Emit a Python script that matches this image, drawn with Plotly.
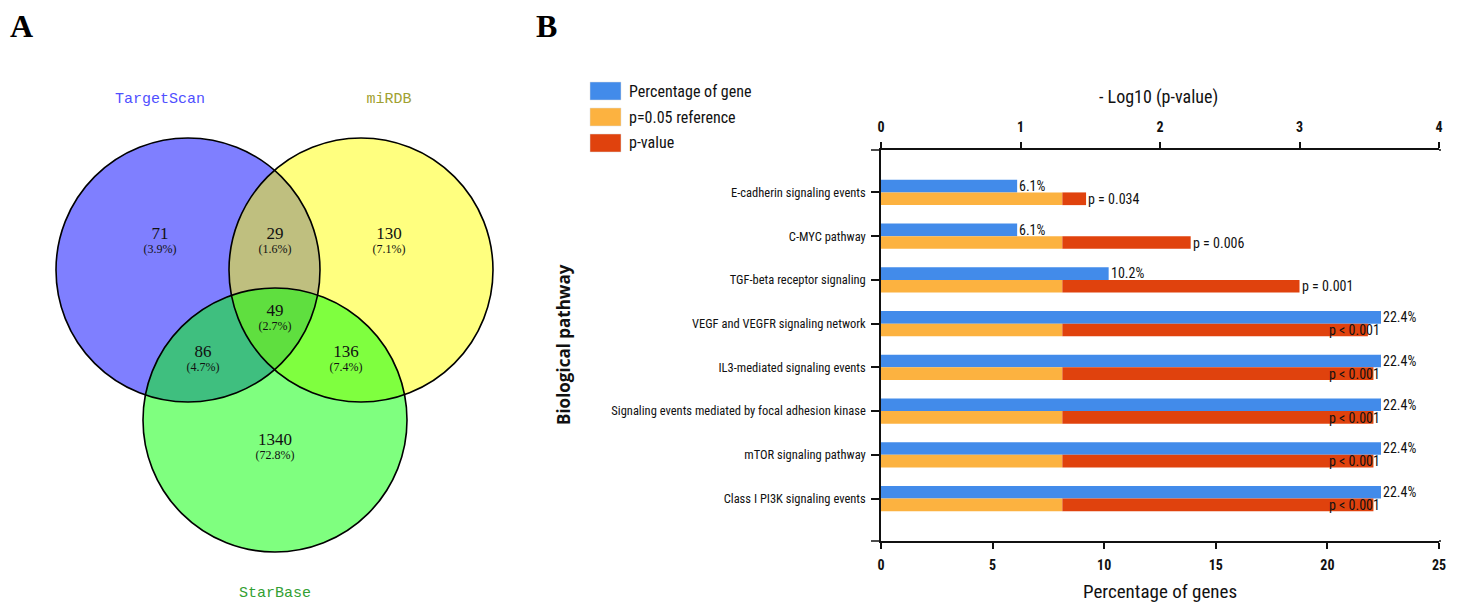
import plotly.graph_objects as go

W, H = 1460, 602

# ---------------- data ----------------
set_names = ["TargetScan", "miRDB", "StarBase"]
region_counts = [71, 29, 130, 86, 49, 136, 1340]
region_percents = ["3.9", "1.6", "7.1", "4.7", "2.7", "7.4", "72.8"]

pathways = [
    "E-cadherin signaling events",
    "C-MYC pathway",
    "TGF-beta receptor signaling",
    "VEGF and VEGFR signaling network",
    "IL3-mediated signaling events",
    "Signaling events mediated by focal adhesion kinase",
    "mTOR signaling pathway",
    "Class I PI3K signaling events",
]
gene_pct = [6.1, 6.1, 10.2, 22.4, 22.4, 22.4, 22.4, 22.4]
neg_log_p = [1.47, 2.22, 3.00, 3.49, 3.53, 3.53, 3.53, 3.53]
p_labels = ["p = 0.034", "p = 0.006", "p = 0.001",
            "p < 0.001", "p < 0.001", "p < 0.001", "p < 0.001", "p < 0.001"]
ref_value = 1.30  # -log10(0.05)
legend_names = ["Percentage of gene", "p=0.05 reference", "p-value"]

# ---------------- styles ----------------
BLUE = "#428BEA"
ORANGE = "#FCB240"
RED = "#E0420D"
NARROW = "Liberation Sans Narrow, Arial Narrow, Roboto Condensed, sans-serif"
SERIF = "Liberation Serif, DejaVu Serif, serif"
MONO = "Liberation Mono, DejaVu Sans Mono, monospace"


def px(x):
    return x / W


def py(y):
    return 1 - y / H


X0, X1 = 881, 1439   # bar panel plot-area edges (px)
Y0, Y1 = 150, 541

fig = go.Figure()

# ---------------- Panel B: bars ----------------
bar_w = 0.29
fig.add_trace(go.Bar(
    y=pathways, x=gene_pct, orientation="h", xaxis="x", yaxis="y",
    width=bar_w, offset=-bar_w, marker=dict(color=BLUE, line=dict(width=0)),
    name=legend_names[0], showlegend=False, hoverinfo="x+y"))
fig.add_trace(go.Bar(
    y=pathways, x=[ref_value] * len(pathways), orientation="h", xaxis="x2", yaxis="y",
    width=bar_w, offset=0, marker=dict(color=ORANGE, line=dict(width=0)),
    name=legend_names[1], showlegend=False, hoverinfo="x+y"))
fig.add_trace(go.Bar(
    y=pathways, x=[v - ref_value for v in neg_log_p], base=ref_value,
    orientation="h", xaxis="x2", yaxis="y",
    width=bar_w, offset=0, marker=dict(color=RED, line=dict(width=0)),
    name=legend_names[2], showlegend=False, hoverinfo="x+y"))

annotations = []
lbl_font = dict(family=NARROW, size=14, color="#111")
for name, pc, nl, pl in zip(pathways, gene_pct, neg_log_p, p_labels):
    annotations.append(dict(
        x=pc, y=name, xref="x", yref="y", text=f"{pc}%", showarrow=False,
        xanchor="left", yanchor="middle", yshift=6.5, xshift=0, font=lbl_font))
    if pl.startswith("p <"):
        annotations.append(dict(
            x=pc, y=name, xref="x", yref="y", text=pl, showarrow=False,
            xanchor="right", yanchor="middle", yshift=-6.5, xshift=1, font=lbl_font))
    else:
        annotations.append(dict(
            x=nl, y=name, xref="x2", yref="y", text=pl, showarrow=False,
            xanchor="left", yanchor="middle", yshift=-6.5, xshift=0, font=lbl_font))


def paper_text(x, y, text, font, **kw):
    d = dict(x=px(x), y=py(y), xref="paper", yref="paper", text=text,
             showarrow=False, xanchor="center", yanchor="middle", font=font)
    d.update(kw)
    return d


annotations += [
    paper_text(1158, 97, "- Log10 (p-value)", dict(family=NARROW, size=18, color="#111")),
    paper_text(1160, 591, "Percentage of genes", dict(family=NARROW, size=19, color="#111")),
    paper_text(563, 345, "<b>Biological pathway</b>",
               dict(family="Open Sans, DejaVu Sans, sans-serif", size=17, color="#111"), textangle=-90),
    paper_text(21, 26, "<b>A</b>", dict(family=SERIF, size=32, color="#000")),
    paper_text(546, 26, "<b>B</b>", dict(family=SERIF, size=32, color="#000")),
]

shapes = []
# small axis-line extensions left/right of the plot area (as in the reference)
for yy in (Y0, Y1):
    shapes.append(dict(type="line", xref="paper", yref="paper",
                       x0=px(X0 - 10), x1=px(X0), y0=py(yy), y1=py(yy),
                       line=dict(color="#111", width=1.5)))
    shapes.append(dict(type="line", xref="paper", yref="paper",
                       x0=px(X1), x1=px(X1 + 2), y0=py(yy), y1=py(yy),
                       line=dict(color="#111", width=1.5)))

# legend (manual)
leg_colors = [BLUE, ORANGE, RED]
for i, (nm, col) in enumerate(zip(legend_names, leg_colors)):
    yc = 91 + i * 26
    shapes.append(dict(type="rect", xref="paper", yref="paper",
                       x0=px(590), x1=px(621), y0=py(yc - 9), y1=py(yc + 9),
                       fillcolor=col, line=dict(width=0.5, color="#ddd")))
    annotations.append(paper_text(627, yc, nm, dict(family=NARROW, size=16, color="#111"),
                                  xanchor="left"))

# ---------------- Panel A: Venn ----------------
circles = [  # (cx, cy, r) in panel pixel space
    (188, 270, 132),
    (361, 270, 132),
    (275, 420, 132),
]
venn_fill = ["rgba(0,0,255,0.5)", "rgba(255,255,0,0.5)", "rgba(0,255,0,0.5)"]
for (cx, cy, r), fc in zip(circles, venn_fill):
    shapes.append(dict(type="circle", xref="x3", yref="y3",
                       x0=cx - r, x1=cx + r, y0=cy - r, y1=cy + r,
                       fillcolor=fc, line=dict(width=0), layer="below"))
for (cx, cy, r) in circles:
    shapes.append(dict(type="circle", xref="x3", yref="y3",
                       x0=cx - r, x1=cx + r, y0=cy - r, y1=cy + r,
                       fillcolor="rgba(0,0,0,0)", line=dict(width=1.6, color="#000"), layer="above"))

region_x = [160, 275, 389, 203, 275, 346, 275]
region_y = [242, 242, 242, 360, 319, 360, 448]

fig.add_trace(go.Scatter(
    x=region_x, y=[v - 7 for v in region_y], xaxis="x3", yaxis="y3", mode="text",
    text=[str(c) for c in region_counts],
    textfont=dict(family=SERIF, size=17, color="#111"),
    showlegend=False, hoverinfo="skip"))
fig.add_trace(go.Scatter(
    x=region_x, y=[v + 8 for v in region_y], xaxis="x3", yaxis="y3", mode="text",
    text=[f"({p}%)" for p in region_percents],
    textfont=dict(family=SERIF, size=12, color="#111"),
    showlegend=False, hoverinfo="skip"))

set_label_pos = [(160, 99), (389, 99), (275, 593)]
set_label_col = ["#5050FF", "#A0A030", "#33A033"]
fig.add_trace(go.Scatter(
    x=[p[0] for p in set_label_pos], y=[p[1] for p in set_label_pos],
    xaxis="x3", yaxis="y3", mode="text", text=set_names,
    textfont=dict(family=MONO, size=15, color=set_label_col),
    showlegend=False, hoverinfo="skip"))

axis_font = dict(family=NARROW, size=14, color="#111", weight="bold")
fig.update_layout(
    width=W, height=H, autosize=False,
    margin=dict(l=0, r=0, t=0, b=0, pad=0, autoexpand=False),
    paper_bgcolor="white", plot_bgcolor="rgba(0,0,0,0)",
    barmode="overlay",
    xaxis=dict(domain=[px(X0), px(X1)], range=[0, 25], anchor="y", side="bottom",
               tickvals=[0, 5, 10, 15, 20, 25], showline=True, linecolor="#111", linewidth=1.5,
               ticks="outside", ticklen=6, tickwidth=1.5, tickcolor="#111",
               tickfont=axis_font, ticklabelstandoff=4, automargin=False,
               showgrid=False, zeroline=False, fixedrange=True),
    xaxis2=dict(overlaying="x", range=[0, 4], anchor="y", side="top",
                tickvals=[0, 1, 2, 3, 4], showline=True, linecolor="#111", linewidth=1.5,
                ticks="outside", ticklen=6, tickwidth=1.5, tickcolor="#111",
                tickfont=axis_font, ticklabelstandoff=5, automargin=False,
                showgrid=False, zeroline=False, fixedrange=True),
    yaxis=dict(domain=[py(Y1), py(Y0)], type="category", range=[7.97, -0.97], anchor="x",
               showline=True, linecolor="#111", linewidth=1.5,
               ticks="outside", ticklen=8, tickwidth=1.5, tickcolor="#111",
               tickfont=dict(family=NARROW, size=12.5, color="#111"), ticklabelstandoff=3,
               automargin=False, showgrid=False, zeroline=False, fixedrange=True),
    xaxis3=dict(domain=[0, px(520)], range=[0, 520], anchor="y3", visible=False, fixedrange=True),
    yaxis3=dict(domain=[0, 1], range=[602, 0], anchor="x3", visible=False, fixedrange=True),
    shapes=shapes,
    annotations=annotations,
)

fig.write_html("out.html",
               config={"displayModeBar": False, "responsive": False},
               post_script="document.body.style.margin='0px';document.body.style.overflow='hidden';")
